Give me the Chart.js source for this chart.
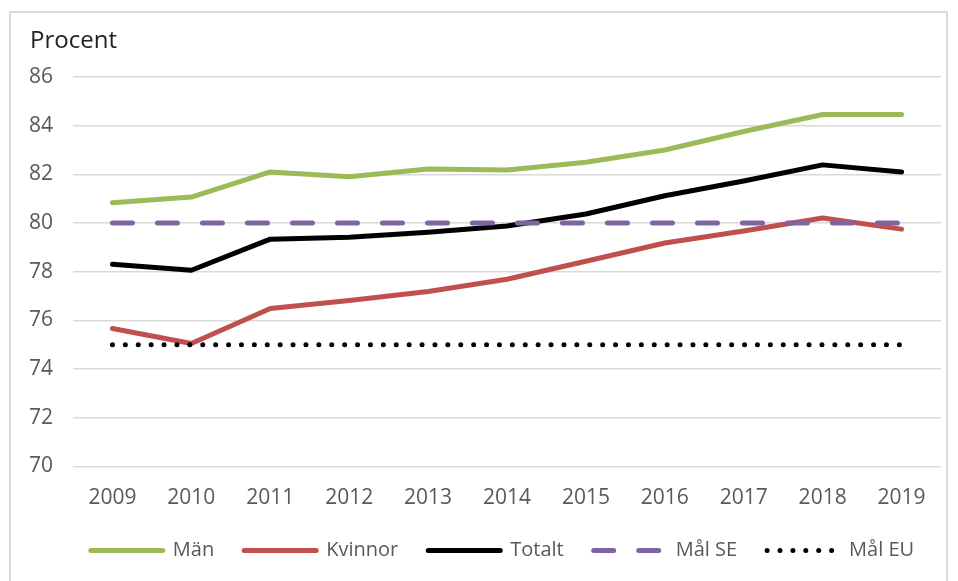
<!DOCTYPE html>
<html>
<head>
<meta charset="utf-8">
<script src="https://cdn.jsdelivr.net/npm/chart.js@4/dist/chart.umd.min.js"></script>
<style>
  html, body { margin: 0; padding: 0; background: #fff; overflow: hidden; }
  #wrap { position: relative; width: 958px; height: 581px; }
  #frame { position: absolute; left: 9px; top: 11px; width: 939px; height: 620px; border: 2px solid #d9d9d9; box-sizing: border-box; }
  canvas { position: absolute; left: 0; top: 0; }
</style>
</head>
<body>
<div id="wrap">
  <div id="frame"></div>
  <canvas id="c" width="958" height="581"></canvas>
</div>
<script>
const years = ['2009','2010','2011','2012','2013','2014','2015','2016','2017','2018','2019'];
const man = [80.83, 81.07, 82.1, 81.9, 82.22, 82.18, 82.5, 83.0, 83.76, 84.46, 84.46];
const kvinnor = [75.67, 75.05, 76.49, 76.82, 77.19, 77.69, 78.43, 79.18, 79.67, 80.21, 79.75];
const totalt = [78.31, 78.06, 79.34, 79.42, 79.62, 79.88, 80.37, 81.12, 81.73, 82.39, 82.1];
const malSE = [80, 80, 80, 80, 80, 80, 80, 80, 80, 80, 80];
const malEU = [75, 75, 75, 75, 75, 75, 75, 75, 75, 75, 75];
const yTitle = 'Procent';

const FONT = "'Open Sans', 'Liberation Sans', sans-serif";
const LABEL = '#595959';

function line(label, data, color, order, extra) {
  return Object.assign({
    label, data, order,
    borderColor: color, backgroundColor: color,
    borderWidth: 5, pointRadius: 0, pointHoverRadius: 0,
    tension: 0, fill: false,
    borderCapStyle: 'round', borderJoinStyle: 'round'
  }, extra || {});
}

const legendShift = {
  id: 'legendShift',
  afterLayout(chart) {
    const lg = chart.legend;
    if (lg) { lg.left += 17; lg.right += 17; }
  }
};

new Chart(document.getElementById('c'), {
  type: 'line',
  data: {
    labels: years,
    datasets: [
      line('Män', man, '#9BBB59', 5),
      line('Kvinnor', kvinnor, '#C0504D', 4),
      line('Totalt', totalt, '#000000', 3),
      line('Mål SE', malSE, '#8064A2', 2, { borderDash: [20, 25] }),
      line('Mål EU', malEU, '#000000', 1, { borderDash: [0, 12.9] })
    ]
  },
  options: {
    responsive: false,
    animation: false,
    devicePixelRatio: 1,
    layout: { padding: { left: 30, right: 17, top: 10, bottom: 10.5 } },
    plugins: {
      title: {
        display: true, text: yTitle, align: 'start', color: '#222',
        font: { family: FONT, size: 24, weight: 'normal' },
        padding: { top: 16.6, bottom: 21.6 }
      },
      legend: {
        position: 'bottom',
        labels: {
          usePointStyle: true, pointStyle: 'line', pointStyleWidth: 72,
          padding: 30, color: LABEL,
          font: { family: FONT, size: 20 },
          generateLabels(chart) {
            return chart.data.datasets.map((ds, i) => ({
              text: ds.label, datasetIndex: i,
              strokeStyle: ds.borderColor, fillStyle: ds.borderColor,
              lineWidth: 5, lineDash: ds.borderDash || [], lineDashOffset: 0,
              lineCap: 'round', lineJoin: 'round',
              pointStyle: 'line', hidden: false, fontColor: LABEL
            }));
          }
        }
      },
      tooltip: { enabled: false }
    },
    scales: {
      x: {
        offset: true,
        grid: { display: false, drawTicks: false },
        border: { display: false },
        ticks: { color: LABEL, font: { family: FONT, size: 21 }, padding: 19, maxRotation: 0 },
        afterFit(s) { s.height = 44; }
      },
      y: {
        min: 70, max: 86,
        grid: { color: '#d9d9d9', lineWidth: 1.5, drawTicks: false },
        border: { display: false },
        ticks: { stepSize: 2, color: LABEL, font: { family: FONT, size: 21 }, padding: 20 },
        afterFit(s) { s.width = 43; }
      }
    }
  },
  plugins: [legendShift]
});
</script>
</body>
</html>
